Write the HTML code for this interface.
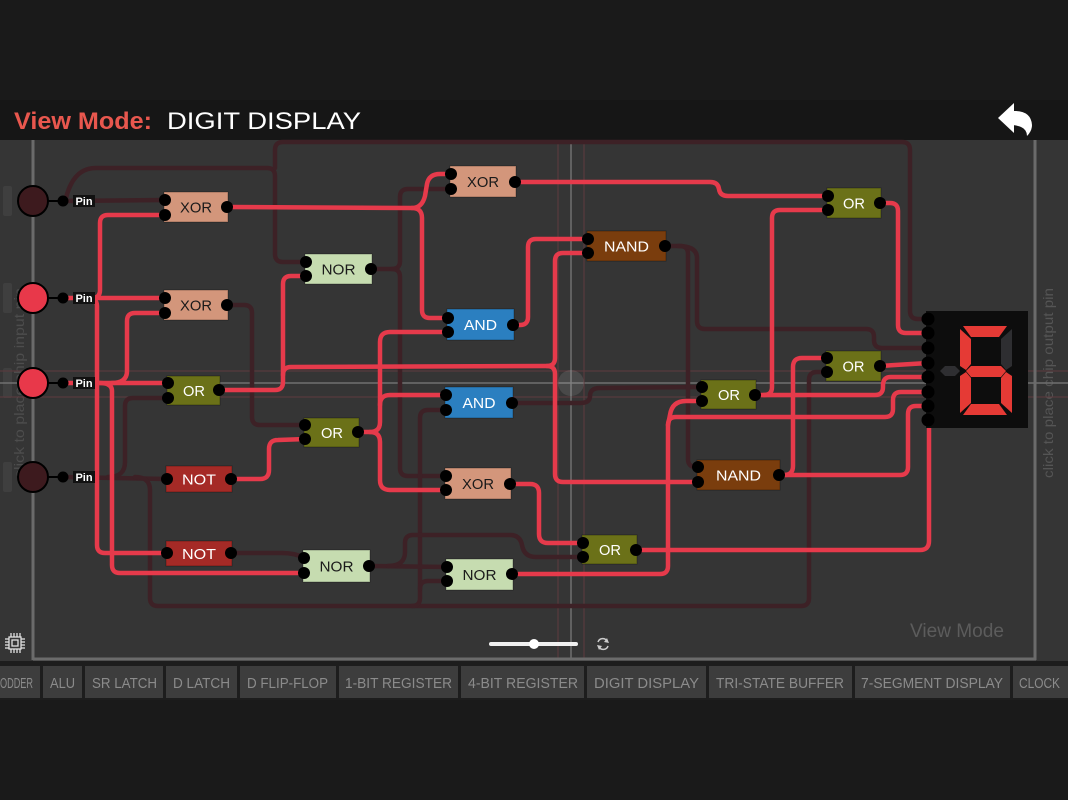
<!DOCTYPE html>
<html>
<head>
<meta charset="utf-8">
<style>
html,body{margin:0;padding:0;background:#1a1a1a;width:1068px;height:800px;overflow:hidden}
svg{display:block}
.g{font-family:"Liberation Sans",sans-serif;font-size:15px;text-anchor:middle}
.tab{font-family:"Liberation Sans",sans-serif;font-size:15px;fill:#8b8b8b}
.w{fill:none;stroke-width:4.5;stroke-linecap:round;stroke-linejoin:round}
.d{stroke:#3d2126}
.r{stroke:#e63a4b}
</style>
</head>
<body>
<svg width="1068" height="800" viewBox="0 0 1068 800" xmlns="http://www.w3.org/2000/svg">
  <!-- backgrounds -->
  <rect x="0" y="0" width="1068" height="800" fill="#1a1a1a"/>
  <rect x="0" y="100" width="1068" height="40" fill="#161616"/>
  <rect x="0" y="140" width="1068" height="521" fill="#353535"/>

  <!-- header -->
  <text x="14" y="129" font-family="Liberation Sans, sans-serif" font-size="24" font-weight="bold" fill="#e8574e" textLength="138" lengthAdjust="spacingAndGlyphs">View Mode:</text>
  <text x="167" y="129" font-family="Liberation Sans, sans-serif" font-size="24" fill="#ffffff" textLength="194" lengthAdjust="spacingAndGlyphs">DIGIT DISPLAY</text>
  <!-- undo icon -->
  <polygon points="998,118 1014,103 1014,133" fill="#ffffff"/>
  <path d="M1012 111 Q1031 110 1032 125 Q1032 131 1027 136 Q1027 126 1012 125 Z" fill="#ffffff"/>

  <!-- left strip pills -->
  <rect x="3" y="186" width="9" height="30" rx="2" fill="#3f3f3f"/>
  <rect x="3" y="283" width="9" height="30" rx="2" fill="#3f3f3f"/>
  <rect x="3" y="368" width="9" height="30" rx="2" fill="#3f3f3f"/>
  <rect x="3" y="462" width="9" height="30" rx="2" fill="#3f3f3f"/>

  <!-- vertical hints -->
  <text transform="translate(24,478) rotate(-90)" font-family="Liberation Sans, sans-serif" font-size="14" fill="#4d4d4d" textLength="190" lengthAdjust="spacingAndGlyphs">click to place chip input pin</text>
  <text transform="translate(1053,478) rotate(-90)" font-family="Liberation Sans, sans-serif" font-size="14" fill="#555555" textLength="190" lengthAdjust="spacingAndGlyphs">click to place chip output pin</text>

  <!-- guide lines -->
  <line x1="0" y1="371" x2="1068" y2="371" stroke="#5e3a3e" stroke-width="1"/>
  <line x1="0" y1="397" x2="1068" y2="397" stroke="#5e3a3e" stroke-width="1"/>
  <line x1="0" y1="383" x2="1068" y2="383" stroke="#707070" stroke-width="1.5"/>
  <line x1="558" y1="140" x2="558" y2="660" stroke="#5e3a3e" stroke-width="1"/>
  <line x1="584" y1="140" x2="584" y2="660" stroke="#5e3a3e" stroke-width="1"/>
  <line x1="571" y1="140" x2="571" y2="660" stroke="#707070" stroke-width="1.5"/>

  <!-- border lines -->
  <line x1="33" y1="140" x2="33" y2="660" stroke="#6b6b6b" stroke-width="3"/>
  <line x1="1035" y1="140" x2="1035" y2="660" stroke="#6b6b6b" stroke-width="3"/>
  <line x1="33" y1="659" x2="1036" y2="659" stroke="#6b6b6b" stroke-width="3"/>

  <!-- DARK wires -->
  <g class="w d">
    <path d="M63 201 L165 200"/>
    <path d="M66 198 C70 182 78 168 96 168 L267 168 Q275 168 275 176 L275 254 Q275 262 283 262 L307 262"/>
    <path d="M275 168 L275 150 Q275 142 283 142 L902 142 Q910 142 910 150 L910 311 Q910 319 918 319 L928 319"/>
    <path d="M228 305 L244 305 Q252 305 252 313 L252 417 Q252 425 260 425 L306 425"/>
    <path d="M371 269 L392 269 Q400 269 400 261 L400 197 Q400 189 408 189 L452 189"/>
    <path d="M392 269 Q400 269 400 277 L400 468 Q400 476 408 476 L447 476"/>
    <path d="M63 477 L167 479"/>
    <path d="M108 477 Q125 477 125 462 L125 406 Q125 398 133 398 L167 398"/>
    <path d="M135 477 Q150 477 150 490 L150 598 Q150 606 158 606 L801 606 Q809 606 809 598 L809 380 Q809 372 817 372 L828 372"/>
    <path d="M412 606 Q420 606 420 598 L420 418 Q420 410 428 410 L447 410"/>
    <path d="M420 589 Q420 581 428 581 L448 581"/>
    <path d="M231 553 L282 553 Q295 553 305 558"/>
    <path d="M368 566 L448 567"/>
    <path d="M388 566 Q405 566 405 552 L405 543 Q405 535 413 535 L510 535 Q520 535 522 545 Q524 557 536 557 L582 557"/>
    <path d="M512 403 L580 403 Q590 403 590 396 Q590 388 600 388 L703 387"/>
    <path d="M664 246 L680 246 Q688 246 688 254 L688 459 Q688 467 696 467 L702 467"/>
    <path d="M678 246 Q697 246 697 258 L697 321 Q697 329 705 329 L866 329 Q874 329 874 337 L874 340 Q874 348 882 348 L928 348"/>
  </g>

  <!-- RED wires -->
  <g class="w r">
    <path d="M63 298 L165 298"/>
    <path d="M92 298 Q100 298 100 290 L100 223 Q100 215 108 215 L165 215"/>
    <path d="M88 298 Q97 298 97 306 L97 545 Q97 553 105 553 L167 553"/>
    <path d="M63 383 L167 383"/>
    <path d="M112 383 Q127 383 127 371 L127 321 Q127 313 135 313 L165 313"/>
    <path d="M100 383 Q112 383 112 391 L112 565 Q112 573 120 573 L305 573"/>
    <path d="M228 207 L412 208 Q422 208 425 196 L427 184 Q429 174 440 174 L452 174"/>
    <path d="M412 208 Q422 208 422 218 L422 310 Q422 318 430 318 L449 318"/>
    <path d="M514 182 L710 182 Q718 182 719 189 Q720 196 728 196 L828 196"/>
    <path d="M513 325 L520 325 Q528 325 528 317 L528 247 Q528 239 536 239 L588 239"/>
    <path d="M219 390 L275 390 Q283 390 283 382 L283 284 Q283 276 291 276 L307 276"/>
    <path d="M283 375 Q283 367 291 367 L547 366 Q555 366 555 358 L555 261 Q555 253 563 253 L588 253"/>
    <path d="M547 366 Q555 366 555 374 L555 474 Q555 482 563 482 L702 482"/>
    <path d="M358 432 L370 432 Q380 432 380 422 L380 342 Q380 332 390 332 L449 332"/>
    <path d="M380 405 Q380 395 390 395 L447 395"/>
    <path d="M370 432 Q380 432 380 442 L380 480 Q380 490 390 490 L447 490"/>
    <path d="M231 479 L260 479 Q269 479 269 470 L269 449 Q269 440 278 440 L306 439"/>
    <path d="M509 484 L530 484 Q539 484 539 493 L539 534 Q539 543 548 543 L582 543"/>
    <path d="M511 574 L660 574 Q668 574 668 566 L668 425 Q668 417 676 417 L885 417 Q893 417 893 409 L893 400 Q893 392 901 392 L928 392"/>
    <path d="M703 401 L686 401 Q672 401 670 415 L668 425"/>
    <path d="M755 395 L875 395 Q883 395 883 387 L883 385 Q883 377 891 377 L928 377"/>
    <path d="M764 395 Q772 395 772 387 L772 218 Q772 210 780 210 L828 210"/>
    <path d="M778 475 L900 475 Q908 475 908 467 L908 414 Q908 406 916 406 L928 406"/>
    <path d="M784 475 Q793 475 793 466 L793 367 Q793 358 802 358 L828 358"/>
    <path d="M636 550 L920 550 Q929 550 929 541 L929 420"/>
    <path d="M879 203 L890 203 Q898 203 898 211 L898 325 Q898 333 906 333 L928 333"/>
    <path d="M879 366 L928 363"/>
  </g>

  <!-- cursor circle -->
  <circle cx="571" cy="383" r="13" fill="#ffffff" fill-opacity="0.1"/>

  <!-- input pins -->
  <g stroke="#000" stroke-width="2">
    <line x1="48" y1="201" x2="63" y2="201"/>
    <line x1="48" y1="298" x2="63" y2="298"/>
    <line x1="48" y1="383" x2="63" y2="383"/>
    <line x1="48" y1="477" x2="63" y2="477"/>
    <circle cx="33" cy="201" r="15" fill="#3d1a1e"/>
    <circle cx="33" cy="298" r="15" fill="#e8384a"/>
    <circle cx="33" cy="383" r="15" fill="#e8384a"/>
    <circle cx="33" cy="477" r="15" fill="#3d1a1e"/>
  </g>
  <g fill="#000">
    <circle cx="63" cy="201" r="5.5"/>
    <circle cx="63" cy="298" r="5.5"/>
    <circle cx="63" cy="383" r="5.5"/>
    <circle cx="63" cy="477" r="5.5"/>
  </g>
  <g>
    <rect x="73" y="195" width="22" height="12" fill="#111"/>
    <rect x="73" y="292" width="22" height="12" fill="#111"/>
    <rect x="73" y="377" width="22" height="12" fill="#111"/>
    <rect x="73" y="471" width="22" height="12" fill="#111"/>
    <g font-family="Liberation Sans, sans-serif" font-size="11" font-weight="bold" fill="#fff" text-anchor="middle">
      <text x="84" y="205">Pin</text>
      <text x="84" y="302">Pin</text>
      <text x="84" y="387">Pin</text>
      <text x="84" y="481">Pin</text>
    </g>
  </g>

  <!-- gates -->
  <g stroke="#000" stroke-opacity="0.3" stroke-width="1">
    <rect x="164" y="192" width="64" height="30" fill="#d3967b"/>
    <rect x="164" y="290" width="64" height="30" fill="#d3967b"/>
    <rect x="167" y="376" width="53" height="29" fill="#6b7118"/>
    <rect x="166" y="466" width="66" height="26" fill="#a52a26"/>
    <rect x="166" y="541" width="66" height="25" fill="#a52a26"/>
    <rect x="305" y="254" width="67" height="30" fill="#c6dcb0"/>
    <rect x="450" y="166" width="66" height="31" fill="#d3967b"/>
    <rect x="447" y="309" width="67" height="31" fill="#2b7fc0"/>
    <rect x="587" y="231" width="79" height="30" fill="#7a3d0d"/>
    <rect x="827" y="188" width="54" height="30" fill="#6b7118"/>
    <rect x="826" y="351" width="55" height="30" fill="#6b7118"/>
    <rect x="701" y="380" width="55" height="29" fill="#6b7118"/>
    <rect x="304" y="418" width="55" height="29" fill="#6b7118"/>
    <rect x="445" y="387" width="68" height="31" fill="#2b7fc0"/>
    <rect x="445" y="468" width="66" height="31" fill="#d3967b"/>
    <rect x="303" y="550" width="67" height="32" fill="#c6dcb0"/>
    <rect x="446" y="559" width="67" height="31" fill="#c6dcb0"/>
    <rect x="582" y="535" width="55" height="29" fill="#6b7118"/>
    <rect x="697" y="460" width="83" height="30" fill="#7a3d0d"/>
  </g>
  <g class="g">
    <text x="196" y="212.5" fill="#1a1a1a" textLength="32" lengthAdjust="spacingAndGlyphs">XOR</text>
    <text x="196" y="310.5" fill="#1a1a1a" textLength="32" lengthAdjust="spacingAndGlyphs">XOR</text>
    <text x="194" y="396" fill="#fff" textLength="22" lengthAdjust="spacingAndGlyphs">OR</text>
    <text x="199" y="484.5" fill="#fff" textLength="34" lengthAdjust="spacingAndGlyphs">NOT</text>
    <text x="199" y="559" fill="#fff" textLength="34" lengthAdjust="spacingAndGlyphs">NOT</text>
    <text x="338.5" y="274.5" fill="#1a1a1a" textLength="34" lengthAdjust="spacingAndGlyphs">NOR</text>
    <text x="483" y="187" fill="#1a1a1a" textLength="32" lengthAdjust="spacingAndGlyphs">XOR</text>
    <text x="480.5" y="330" fill="#fff" textLength="33" lengthAdjust="spacingAndGlyphs">AND</text>
    <text x="626.5" y="251.5" fill="#fff" textLength="45" lengthAdjust="spacingAndGlyphs">NAND</text>
    <text x="854" y="208.5" fill="#fff" textLength="22" lengthAdjust="spacingAndGlyphs">OR</text>
    <text x="853.5" y="371.5" fill="#fff" textLength="22" lengthAdjust="spacingAndGlyphs">OR</text>
    <text x="729" y="400" fill="#fff" textLength="22" lengthAdjust="spacingAndGlyphs">OR</text>
    <text x="332" y="438" fill="#fff" textLength="22" lengthAdjust="spacingAndGlyphs">OR</text>
    <text x="479" y="408" fill="#fff" textLength="33" lengthAdjust="spacingAndGlyphs">AND</text>
    <text x="478" y="489" fill="#1a1a1a" textLength="32" lengthAdjust="spacingAndGlyphs">XOR</text>
    <text x="336.5" y="571.5" fill="#1a1a1a" textLength="34" lengthAdjust="spacingAndGlyphs">NOR</text>
    <text x="479.5" y="580" fill="#1a1a1a" textLength="34" lengthAdjust="spacingAndGlyphs">NOR</text>
    <text x="610" y="555" fill="#fff" textLength="22" lengthAdjust="spacingAndGlyphs">OR</text>
    <text x="738.5" y="480.5" fill="#fff" textLength="45" lengthAdjust="spacingAndGlyphs">NAND</text>
  </g>
  <!-- gate dots -->
  <g fill="#000">
    <circle cx="165" cy="200" r="6"/><circle cx="165" cy="215" r="6"/><circle cx="227" cy="207" r="6"/>
    <circle cx="165" cy="298" r="6"/><circle cx="165" cy="313" r="6"/><circle cx="227" cy="305" r="6"/>
    <circle cx="168" cy="383" r="6"/><circle cx="168" cy="398" r="6"/><circle cx="219" cy="390" r="6"/>
    <circle cx="167" cy="479" r="6"/><circle cx="231" cy="479" r="6"/>
    <circle cx="167" cy="553" r="6"/><circle cx="231" cy="553" r="6"/>
    <circle cx="306" cy="262" r="6"/><circle cx="306" cy="276" r="6"/><circle cx="371" cy="269" r="6"/>
    <circle cx="451" cy="174" r="6"/><circle cx="451" cy="189" r="6"/><circle cx="515" cy="182" r="6"/>
    <circle cx="448" cy="318" r="6"/><circle cx="448" cy="332" r="6"/><circle cx="513" cy="325" r="6"/>
    <circle cx="588" cy="239" r="6"/><circle cx="588" cy="253" r="6"/><circle cx="665" cy="246" r="6"/>
    <circle cx="828" cy="196" r="6"/><circle cx="828" cy="210" r="6"/><circle cx="880" cy="203" r="6"/>
    <circle cx="827" cy="358" r="6"/><circle cx="827" cy="372" r="6"/><circle cx="880" cy="366" r="6"/>
    <circle cx="702" cy="387" r="6"/><circle cx="702" cy="401" r="6"/><circle cx="755" cy="395" r="6"/>
    <circle cx="305" cy="425" r="6"/><circle cx="305" cy="439" r="6"/><circle cx="358" cy="432" r="6"/>
    <circle cx="446" cy="395" r="6"/><circle cx="446" cy="410" r="6"/><circle cx="512" cy="403" r="6"/>
    <circle cx="446" cy="476" r="6"/><circle cx="446" cy="490" r="6"/><circle cx="510" cy="484" r="6"/>
    <circle cx="304" cy="558" r="6"/><circle cx="304" cy="573" r="6"/><circle cx="369" cy="566" r="6"/>
    <circle cx="447" cy="567" r="6"/><circle cx="447" cy="581" r="6"/><circle cx="512" cy="574" r="6"/>
    <circle cx="583" cy="543" r="6"/><circle cx="583" cy="557" r="6"/><circle cx="636" cy="550" r="6"/>
    <circle cx="698" cy="467" r="6"/><circle cx="698" cy="482" r="6"/><circle cx="779" cy="475" r="6"/>
  </g>

  <!-- digit display -->
  <rect x="926" y="311" width="102" height="117" fill="#0d0d0d"/>
  <g fill="#000">
    <circle cx="928" cy="319" r="6.5"/><circle cx="928" cy="333" r="6.5"/>
    <circle cx="928" cy="348" r="6.5"/><circle cx="928" cy="363" r="6.5"/>
    <circle cx="928" cy="377" r="6.5"/><circle cx="928" cy="392" r="6.5"/>
    <circle cx="928" cy="406" r="6.5"/><circle cx="928" cy="420" r="6.5"/>
  </g>
  <g fill="#e53a35">
    <polygon points="963,326 1007,326 999,337 971,337"/>
    <polygon points="960,329 971,339 971,364 966,370 960,366"/>
    <polygon points="966,371 971,366 1001,366 1006,371 1001,377 971,377"/>
    <polygon points="960,376 966,372 971,378 971,403 960,413"/>
    <polygon points="1012,376 1006,372 1001,378 1001,403 1012,413"/>
    <polygon points="963,415 971,404 999,404 1007,415"/>
  </g>
  <g fill="#2e2e31">
    <polygon points="1012,329 1001,339 1001,364 1006,370 1012,366"/>
    <polygon points="940,371 945,366 955,366 960,371 955,376 945,376"/>
  </g>

  <!-- bottom left chip icon -->
  <g stroke="#e0e0e0" stroke-width="1.3" fill="none">
    <rect x="9" y="637" width="12" height="12"/>
    <rect x="12" y="640" width="6" height="6"/>
    <line x1="5" y1="639" x2="9" y2="639"/><line x1="5" y1="642" x2="9" y2="642"/><line x1="5" y1="645" x2="9" y2="645"/><line x1="5" y1="648" x2="9" y2="648"/>
    <line x1="21" y1="639" x2="25" y2="639"/><line x1="21" y1="642" x2="25" y2="642"/><line x1="21" y1="645" x2="25" y2="645"/><line x1="21" y1="648" x2="25" y2="648"/>
    <line x1="11" y1="633" x2="11" y2="637"/><line x1="14" y1="633" x2="14" y2="637"/><line x1="17" y1="633" x2="17" y2="637"/><line x1="20" y1="633" x2="20" y2="637"/>
    <line x1="11" y1="649" x2="11" y2="653"/><line x1="14" y1="649" x2="14" y2="653"/><line x1="17" y1="649" x2="17" y2="653"/><line x1="20" y1="649" x2="20" y2="653"/>
  </g>

  <!-- slider -->
  <line x1="491" y1="644" x2="576" y2="644" stroke="#f0f0f0" stroke-width="4" stroke-linecap="round"/>
  <circle cx="534" cy="644" r="5" fill="#ffffff"/>
  <path d="M598 642 A5 5 0 0 1 607 641" stroke="#cccccc" stroke-width="1.5" fill="none"/>
  <path d="M608 646 A5 5 0 0 1 599 647" stroke="#cccccc" stroke-width="1.5" fill="none"/>
  <polygon points="607,638 609,643 604,642" fill="#cccccc"/>
  <polygon points="599,650 597,645 602,646" fill="#cccccc"/>

  <!-- watermark -->
  <text x="910" y="637" font-family="Liberation Sans, sans-serif" font-size="19" fill="#5c5c5c" textLength="94" lengthAdjust="spacingAndGlyphs">View Mode</text>

  <!-- tabs -->
  <rect x="0" y="661" width="1068" height="39" fill="#1d1d1d"/>
  <g fill="#3d3d3d">
    <rect x="-5" y="666" width="45" height="32"/>
    <rect x="43" y="666" width="39" height="32"/>
    <rect x="85" y="666" width="78" height="32"/>
    <rect x="166" y="666" width="71" height="32"/>
    <rect x="240" y="666" width="96" height="32"/>
    <rect x="339" y="666" width="119" height="32"/>
    <rect x="461" y="666" width="123" height="32"/>
    <rect x="587" y="666" width="119" height="32"/>
    <rect x="709" y="666" width="143" height="32"/>
    <rect x="855" y="666" width="155" height="32"/>
    <rect x="1013" y="666" width="60" height="32"/>
  </g>
  <g class="tab">
    <text x="0" y="688" textLength="33" lengthAdjust="spacingAndGlyphs">ODDER</text>
    <text x="50" y="688" textLength="25" lengthAdjust="spacingAndGlyphs">ALU</text>
    <text x="92" y="688" textLength="65" lengthAdjust="spacingAndGlyphs">SR LATCH</text>
    <text x="173" y="688" textLength="57" lengthAdjust="spacingAndGlyphs">D LATCH</text>
    <text x="247" y="688" textLength="81" lengthAdjust="spacingAndGlyphs">D FLIP-FLOP</text>
    <text x="345" y="688" textLength="107" lengthAdjust="spacingAndGlyphs">1-BIT REGISTER</text>
    <text x="468" y="688" textLength="110" lengthAdjust="spacingAndGlyphs">4-BIT REGISTER</text>
    <text x="594" y="688" textLength="105" lengthAdjust="spacingAndGlyphs">DIGIT DISPLAY</text>
    <text x="716" y="688" textLength="128" lengthAdjust="spacingAndGlyphs">TRI-STATE BUFFER</text>
    <text x="861" y="688" textLength="142" lengthAdjust="spacingAndGlyphs">7-SEGMENT DISPLAY</text>
    <text x="1019" y="688" textLength="41" lengthAdjust="spacingAndGlyphs">CLOCK</text>
  </g>
</svg>
</body>
</html>
